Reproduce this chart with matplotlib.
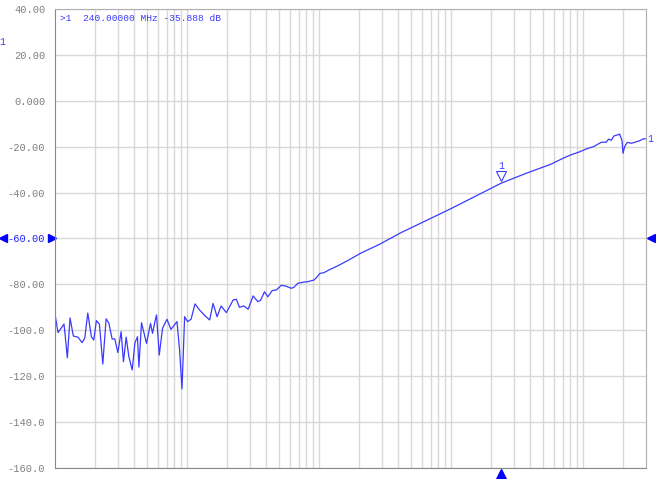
import numpy as np
import matplotlib
matplotlib.use("Agg")
import matplotlib.pyplot as plt
import matplotlib.transforms as mtransforms
from matplotlib.ticker import FixedLocator, NullFormatter

# trace data: frequency in MHz, magnitude in dB
freq_mhz = [
    0.100, 0.1054, 0.1170, 0.1197, 0.1240, 0.1300, 0.1377, 0.1495, 0.1603, 0.1681,
    0.1771, 0.1887, 0.1967, 0.2059, 0.2170, 0.2302, 0.2439, 0.2557, 0.2709, 0.2840,
    0.2993, 0.3170, 0.3301, 0.3461, 0.3628, 0.3843, 0.4029, 0.4216, 0.4321, 0.4522,
    0.4935, 0.5291, 0.5480, 0.5715, 0.5877, 0.6163, 0.6527, 0.7050, 0.7558, 0.8398,
    0.8786, 0.9162, 0.9374, 0.9590, 1.0106, 1.0725, 1.1501, 1.2462, 1.3772, 1.4847,
    1.5755, 1.6901, 1.8125, 1.9883, 2.2354, 2.3678, 2.4953, 2.6904, 2.9054, 3.1703,
    3.4365, 3.6025, 3.8637, 4.0926, 4.4196, 4.7643, 5.1737, 5.5776, 6.1632, 6.4492,
    6.9152, 7.6807, 8.2366, 9.1497, 9.4758, 10.158, 10.894, 11.888, 13.772, 16.402,
    20.699, 29.004, 41.65, 59.09, 99.8, 162.9, 240.0, 370.5, 573.6, 707.5,
    813.8, 935.8, 1057.6, 1195.6, 1375.0, 1501.0, 1562.0, 1637.0, 1716.0, 1819.0,
    1893.0, 1974.0, 2010.0, 2066.0, 2166.0, 2323.0, 2461.0, 2685.0, 2850.0, 3000.0,
]
mag_db = [
    -92.9, -101.0, -97.3, -102.8, -112.0, -94.6, -102.5, -103.0, -105.4, -103.4,
    -92.5, -102.8, -104.2, -95.8, -97.3, -114.7, -95.0, -96.8, -103.8, -103.8,
    -109.7, -100.6, -113.7, -103.0, -111.5, -117.3, -105.5, -102.8, -116.0, -96.7,
    -105.7, -97.0, -101.3, -96.2, -93.3, -110.8, -99.1, -95.2, -99.6, -96.2,
    -108.6, -125.5, -110.0, -94.1, -96.2, -95.2, -88.5, -91.2, -93.8, -95.5,
    -88.3, -94.1, -89.4, -92.3, -86.8, -86.5, -90.0, -89.4, -90.8, -85.0,
    -87.5, -87.0, -83.2, -85.4, -82.7, -82.4, -80.4, -80.7, -81.7, -81.3,
    -79.5, -79.0, -78.8, -78.1, -77.3, -75.2, -74.9, -73.7, -72.0, -69.7,
    -66.4, -62.4, -57.5, -53.3, -47.0, -40.8, -35.888, -31.6, -27.6, -25.0,
    -23.5, -22.3, -21.0, -20.0, -18.1, -18.0, -16.7, -17.2, -15.3, -14.9,
    -14.5, -17.3, -22.9, -20.0, -18.1, -18.5, -18.1, -17.4, -16.6, -16.5,
]

y_ticks = [40, 20, 0, -20, -40, -60, -80, -100, -120, -140, -160]
y_labels = ["40.00", "20.00", "0.000", "-20.00", "-40.00", "-60.00", "-80.00",
            "-100.0", "-120.0", "-140.0", "-160.0"]
ref_level = -60
marker_freq = 240.0
marker_db = -35.888
marker_text = ">1  240.00000 MHz -35.888 dB"

blue = "#3a3aff"
mono = "Liberation Mono"

fig = plt.figure(figsize=(6.56, 4.79), dpi=100)
ax = fig.add_axes([55 / 656, 11 / 479, 591 / 656, 459 / 479])

ax.set_xscale("log")
ax.set_xlim(0.1, 3000)
ax.set_ylim(-160, 40)

# log grid: every 1..9 multiple of each decade
vlines = [m * 10.0 ** e for e in range(-1, 4) for m in range(1, 10) if 0.1 < m * 10.0 ** e < 3000]
ax.xaxis.set_major_locator(FixedLocator(vlines))
ax.xaxis.set_minor_locator(FixedLocator([]))
ax.xaxis.set_major_formatter(NullFormatter())
ax.set_yticks(y_ticks)
ax.set_yticklabels(y_labels)
ax.grid(True, color="#d8d8d8", linewidth=1.0)
ax.tick_params(length=0, pad=7)
ax.tick_params(axis="y", labelsize=7.5, labelcolor="#808080")
for lbl in ax.get_yticklabels():
    lbl.set_family(mono)
    if lbl.get_text() == "-60.00":
        lbl.set_color("#2020ff")

for side in ["top", "right"]:
    ax.spines[side].set_color("#b0b0b0")
for side in ["left", "bottom"]:
    ax.spines[side].set_color("#888888")

ax.plot(freq_mhz, mag_db, color=blue, linewidth=0.9)

# marker 1
ax.plot([marker_freq], [marker_db], marker="v", markersize=6.5, markerfacecolor="white",
        markeredgecolor=blue, markeredgewidth=0.8,
        transform=mtransforms.offset_copy(ax.transData, fig=fig, x=0, y=5, units="points"))
ax.annotate("1", (marker_freq, marker_db), xytext=(0, 8.5), textcoords="offset points",
            ha="center", va="bottom", color=blue, fontsize=7, family=mono)
ax.annotate("1", (freq_mhz[-1], mag_db[-1]), xytext=(1, 0), textcoords="offset points",
            ha="left", va="center", color=blue, fontsize=7, family=mono, annotation_clip=False)

ax.text(0.009, 0.979, marker_text, transform=ax.transAxes, ha="left", va="center",
        color=blue, fontsize=6.8, family=mono)
ax.text(-0.094, 0.928, "1", transform=ax.transAxes, ha="left", va="center",
        color=blue, fontsize=7, family=mono)

# reference level and stimulus arrows
yblend = mtransforms.blended_transform_factory(ax.transAxes, ax.transData)
ax.plot([-0.088], [ref_level], marker="<", markersize=6, color="#0000ff", transform=yblend, clip_on=False)
ax.plot([-0.0055], [ref_level], marker=">", markersize=6, color="#0000ff", transform=yblend, clip_on=False)
ax.plot([1.0085], [ref_level], marker="<", markersize=6, color="#0000ff", transform=yblend, clip_on=False)
xblend = mtransforms.blended_transform_factory(ax.transData, ax.transAxes)
ax.plot([marker_freq], [-0.012], marker="^", markersize=6.5, color="#0000ff", transform=xblend, clip_on=False)

fig.savefig("out.png", dpi=100)
